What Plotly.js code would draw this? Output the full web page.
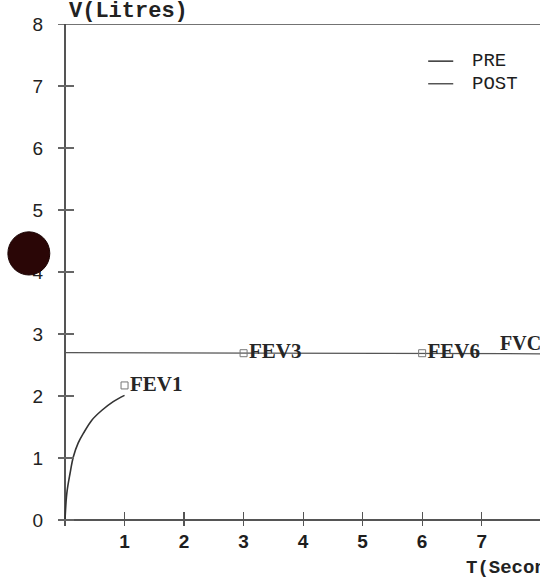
<!DOCTYPE html>
<html>
<head>
<meta charset="utf-8">
<script src="https://cdn.plot.ly/plotly-3.0.1.min.js"></script>
<style>html,body{margin:0;padding:0;background:#fff;}#chart{width:540px;height:581px;}</style>
</head>
<body>
<div id="chart"></div>
<script>
// Time (s) and volume (L) of the PRE expiration curve
const preTime = [0, 0.03, 0.084, 0.14, 0.22, 0.31, 0.45, 0.62, 0.81, 1.0];
const preVolume = [0, 0.43, 0.75, 1.02, 1.24, 1.40, 1.61, 1.77, 1.91, 2.01];
// POST level line
const postTime = [0, 8.2];
const postVolume = [2.70, 2.68];
// Marked points
const eventNames = ['FEV1', 'FEV3', 'FEV6'];
const eventTime = [1, 3, 6];
const eventVolume = [2.17, 2.69, 2.69];
const fvcLabel = {name: 'FVC', t: 7.27, v: 2.86};
// Ticks
const xTicks = [1, 2, 3, 4, 5, 6, 7, 8];
const yTicks = [0, 1, 2, 3, 4, 5, 6, 7, 8];
const legendNames = ['PRE', 'POST'];

const ink = '#333';
const labelFont = {family: 'Liberation Serif', size: 21, color: '#262626', weight: 'bold'};
const traces = [
  {x: preTime, y: preVolume, mode: 'lines', line: {color: ink, width: 1.6, shape: 'spline', smoothing: 1}, name: 'PRE', showlegend: false, hoverinfo: 'skip'},
  {x: postTime, y: postVolume, mode: 'lines', line: {color: '#555', width: 1.3}, name: 'POST', showlegend: false, hoverinfo: 'skip'},
  {x: eventTime, y: eventVolume, mode: 'markers+text', text: eventNames, textposition: 'middle right',
   textfont: labelFont,
   marker: {symbol: 'square-open', size: 7, color: '#777', line: {width: 1}}, showlegend: false, hoverinfo: 'skip'}
];

const monoFont = {family: 'Liberation Mono', size: 19, color: '#1e1e1e'};
const layout = {
  width: 540, height: 581,
  margin: {l: 58, r: 0, t: 24, b: 55, pad: 0},
  paper_bgcolor: '#fff', plot_bgcolor: '#fff',
  showlegend: false,
  xaxis: {range: [-0.118, 7.98], tickvals: xTicks, ticktext: xTicks.map(String),
    ticks: 'inside', ticklen: 14, tickwidth: 1.2, tickcolor: '#555',
    showgrid: false, showline: false, zeroline: true, zerolinecolor: '#555', zerolinewidth: 1.3,
    tickfont: {family: 'Liberation Sans', size: 19, color: '#1e1e1e', weight: 'bold'}, ticklabelstandoff: 2, fixedrange: true},
  yaxis: {range: [-0.097, 8], tickvals: yTicks, ticktext: yTicks.map(String),
    ticks: 'inside', ticklen: 16, tickwidth: 1.1, tickcolor: '#666',
    showgrid: false, showline: false, zeroline: true, zerolinecolor: '#555', zerolinewidth: 1.3,
    tickfont: {family: 'Liberation Sans', size: 19, color: '#222'}, ticklabelstandoff: 14, fixedrange: true},
  shapes: [
    {type: 'line', xref: 'paper', yref: 'y', x0: 0, x1: 1, y0: 8, y1: 8, line: {color: '#444', width: 1.3}},
    // legend samples
    {type: 'line', xref: 'paper', yref: 'paper', x0: 0.768, x1: 0.820, y0: 0.926, y1: 0.926, line: {color: ink, width: 1.5}},
    {type: 'line', xref: 'paper', yref: 'paper', x0: 0.768, x1: 0.820, y0: 0.881, y1: 0.881, line: {color: '#555', width: 1.5}},
    // ink blot on the scan
    {type: 'circle', xref: 'paper', yref: 'paper', x0: -0.104, x1: -0.017, y0: 0.50, y1: 0.586,
     fillcolor: '#2a0606', line: {color: '#1a0303', width: 1}, layer: 'above'}
  ],
  annotations: [
    {text: '<b>V(Litres)</b>', xref: 'paper', yref: 'paper', x: 0.018, y: 1.0, xanchor: 'left', yanchor: 'bottom', yshift: -2,
     showarrow: false, font: {family: 'Liberation Mono', size: 22, color: '#222'}},
    {text: legendNames[0], xref: 'paper', yref: 'paper', x: 0.855, y: 0.926, xanchor: 'left', yanchor: 'middle', showarrow: false, font: monoFont},
    {text: legendNames[1], xref: 'paper', yref: 'paper', x: 0.855, y: 0.881, xanchor: 'left', yanchor: 'middle', showarrow: false, font: monoFont},
    {text: fvcLabel.name, x: fvcLabel.t, y: fvcLabel.v, xanchor: 'left', yanchor: 'middle', showarrow: false,
     font: {family: 'Liberation Serif', size: 20, color: '#262626', weight: 'bold'}},
    {text: '<b>T(Seconds)</b>', xref: 'paper', yref: 'paper', x: 0.843, y: -0.084, xanchor: 'left', yanchor: 'middle',
     showarrow: false, font: {family: 'Liberation Mono', size: 19, color: '#222'}}
  ]
};

Plotly.newPlot('chart', traces, layout, {staticPlot: true, displayModeBar: false});
</script>
</body>
</html>
